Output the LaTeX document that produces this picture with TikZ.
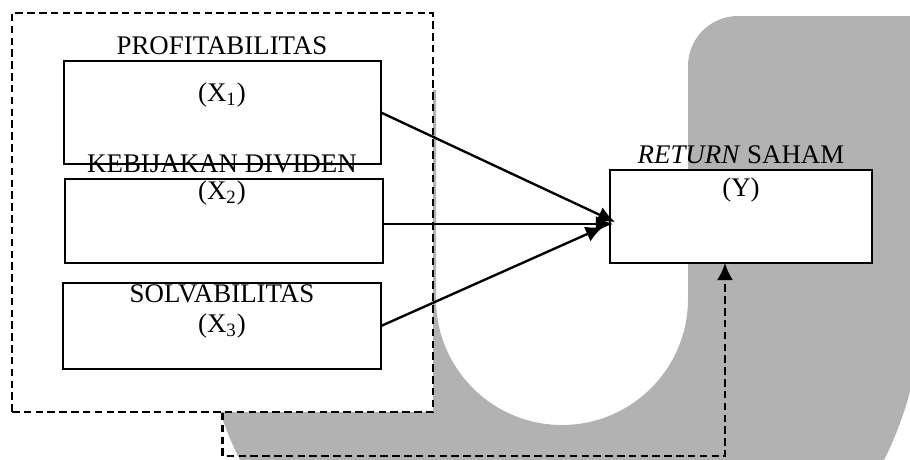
\documentclass[tikz,border=0pt]{standalone}
\usepackage{fontspec}
\setmainfont{Liberation Serif}
\usetikzlibrary{arrows.meta}
\newcommand{\satuan}{0.465pt}
\begin{document}
\begin{tikzpicture}[x=0.465pt, y=-0.465pt,
  kotak/.style={draw, line width=0.9pt, fill=white, inner sep=0pt, outer sep=0pt},
  putus/.style={line width=0.8pt, dash pattern=on 3.5pt off 2pt},
  teks/.style={font=\fontsize{12.5}{14}\selectfont, inner sep=0pt},
  ujung/.style={-{Latex[length=8pt,width=7.5pt]}},
  panah/.style={line width=1.1pt, ujung}]
\useasboundingbox (0,0) rectangle (910,459);
\begin{scope}
\clip (0,0) rectangle (910,459);
\fill[gray!60] (688,66) -- (688,299) arc[start angle=0, end angle=180, radius=126] -- (436,90) -- (202,90) -- (202,299) arc[start angle=180, end angle=0, radius=360] -- (922,16) -- (738,16) arc[start angle=-90, end angle=-180, radius=50] -- cycle;
\end{scope}
\node[putus, draw, fill=white, inner sep=0pt, minimum width={421*\satuan}, minimum height={399*\satuan}] (kelompok) at (222.5,212.5) {};
\node[kotak, minimum width={317*\satuan}, minimum height={103*\satuan}] (x1) at (222.5,112.5) {};
\node[kotak, minimum width={318*\satuan}, minimum height={84*\satuan}] (x2) at (224,221) {};
\node[kotak, minimum width={318*\satuan}, minimum height={86*\satuan}] (x3) at (222,326) {};
\node[kotak, minimum width={262*\satuan}, minimum height={93*\satuan}] (y) at (741,216.5) {};
\node[teks] (judul1) at (222,46) {PROFITABILITAS};
\node[teks] (var1) at (222,95) {(X\textsubscript{1})};
\node[teks] (judul2) at (222,164) {KEBIJAKAN DIVIDEN};
\node[teks] (var2) at (222,193) {(X\textsubscript{2})};
\node[teks] (judul3) at (222,294) {SOLVABILITAS};
\node[teks] (var3) at (222,326) {(X\textsubscript{3})};
\node[teks] (judul4) at (741,155) {\textit{RETURN} SAHAM};
\node[teks] (var4) at (741,190) {(Y)};
\coordinate (masuk1) at (615,222);
\coordinate (masuk2) at (613,224);
\coordinate (masuk3) at (603,227);
\coordinate (pojok) at (725,456);
\draw[panah] (x1.east) -- (masuk1);
\draw[panah] (x2.east |- masuk2) -- (masuk2);
\draw[panah] (x3.east) -- (masuk3);
\draw[putus, line width=1pt, ujung] (kelompok.south) |- (pojok) -- (pojok |- y.south);
\end{tikzpicture}
\end{document}
